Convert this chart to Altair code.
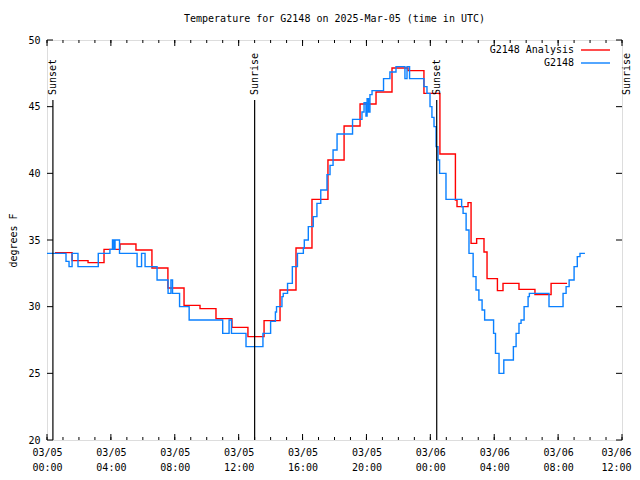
import altair as alt
import pandas as pd

MONO = "DejaVu Sans Mono"

# Hours since 03/05 00:00 UTC
analysis_hours = [0.5, 1.57, 2.57, 3.57, 4.57, 5.57, 6.57, 7.57, 8.58, 9.58, 10.58, 11.58,
                  12.58, 13.59, 14.59, 15.59, 16.59, 17.59, 18.6, 19.6, 20.6, 21.6, 22.6,
                  23.6, 24.6, 25.57, 25.67, 26.36, 26.55, 26.9, 27.36, 27.55, 28.2, 28.55,
                  29.55, 30.55, 31.56, 32.56]
analysis_temp = [34.05, 33.45, 33.3, 34.3, 34.7, 34.25, 32.9, 31.4, 30.1, 29.85, 29.1, 28.45,
                 27.75, 28.95, 31.25, 34.4, 38.05, 41.0, 43.55, 45.2, 46.1, 47.9, 47.7,
                 46.0, 41.45, 38.0, 37.5, 37.8, 34.75, 35.1, 34.1, 32.1, 31.2, 31.75,
                 31.3, 30.9, 31.75, 31.75]

obs_hours = [0.0, 1.19, 1.38, 1.57, 1.94, 3.21, 3.94, 4.1, 4.19, 4.26, 4.54, 5.64, 5.92,
             6.14, 6.89, 7.58, 7.76, 7.86, 8.3, 8.9, 11.0, 11.4, 11.55, 12.46, 13.52,
             14.0, 14.3, 14.37, 14.71, 14.79, 15.06, 15.36, 15.68, 16.05, 16.11, 16.36,
             16.67, 16.9, 17.14, 17.53, 17.72, 17.91, 18.16, 19.13, 19.72, 19.85, 19.97,
             20.04, 20.13, 20.22, 20.35, 21.07, 21.47, 21.85, 22.41, 22.54, 22.7, 23.6,
             23.79, 23.98, 24.1, 24.23, 24.36, 24.48, 24.58, 24.98, 25.96, 26.05, 26.24,
             26.42, 26.68, 26.86, 27.04, 27.24, 27.4, 27.96, 28.08, 28.3, 28.6, 29.2,
             29.37, 29.55, 29.68, 29.87, 30.12, 30.2, 31.43, 32.31, 32.5, 32.69, 33.0,
             33.2, 33.37, 33.68]
obs_temp = [34.0, 33.4, 33.0, 34.0, 33.0, 34.0, 34.3, 35.0, 34.3, 35.0, 34.0, 33.0, 34.0,
            33.0, 32.0, 31.0, 32.0, 31.0, 30.0, 29.0, 28.0, 29.0, 28.0, 27.0, 28.0,
            28.9, 29.6, 30.0, 30.75, 31.0, 31.75, 33.0, 34.0, 34.4, 35.0, 36.0,
            36.75, 37.75, 38.75, 39.9, 40.6, 41.75, 42.95, 44.05, 44.6, 45.3, 44.3,
            45.6, 44.6, 45.9, 46.2, 47.1, 47.6, 48.0, 47.1, 48.0, 47.1, 46.5,
            46.0, 45.0, 44.2, 43.5, 42.0, 41.0, 40.0, 38.05, 37.5, 37.0, 35.75,
            34.0, 32.25, 31.25, 30.5, 29.75, 29.0, 28.0, 26.5, 25.0, 26.0, 27.0,
            28.0, 28.75, 29.0, 30.0, 30.75, 31.0, 30.0, 31.0, 31.5, 32.0, 33.0,
            33.75, 34.0, 34.0]

sun_hours = [0.37, 13.0, 24.4, 36.9]
sun_labels = ["Sunset", "Sunrise", "Sunset", "Sunrise"]

y_tick_values = [20, 25, 30, 35, 40, 45, 50]
x_label_hours = [0, 4, 8, 12, 16, 20, 24, 28, 32, 36]
x_minor_hours = list(range(0, 37))

series_names = ["G2148 Analysis", "G2148"]
series_colors = ["#ff0000", "#0a80ff"]

lines_df = pd.concat([
    pd.DataFrame({"hours": analysis_hours, "temp": analysis_temp, "series": series_names[0]}),
    pd.DataFrame({"hours": obs_hours, "temp": obs_temp, "series": series_names[1]}),
])
sun_df = pd.DataFrame({"hours": sun_hours, "label": sun_labels})

W, H = 575, 400
x_scale = alt.Scale(domain=[0, 36], nice=False, zero=False)
y_scale = alt.Scale(domain=[20, 50], nice=False, zero=False)

label_expr = ("[datum.value < 24 ? '03/05' : '03/06', "
              "(datum.value % 24 < 10 ? '0' : '') + (datum.value % 24) + ':00']")

x_axis = alt.Axis(values=x_label_hours, labelExpr=label_expr, ticks=False, domain=False,
                  grid=False, labelFont=MONO, labelFontSize=10, labelPadding=7,
                  labelLineHeight=15, labelBaseline="top", labelAngle=0,
                  labelOffset={"condition": {"test": "datum.value >= 36", "value": -6}, "value": 0},
                  labelOverlap=False, labelFlush=False, labelColor="black", title=None)
y_axis = alt.Axis(values=y_tick_values, ticks=False, domain=False, grid=False,
                  labelFont=MONO, labelFontSize=10, labelPadding=7, labelColor="black",
                  labelFlush=False, labelOverlap=False,
                  title="degrees F", titleFont=MONO, titleFontSize=10,
                  titleFontWeight="normal", titleColor="black", titlePadding=9)


def xq(field="hours"):
    return alt.X(f"{field}:Q", scale=x_scale, axis=x_axis)


def yq():
    return alt.Y("temp:Q", scale=y_scale, axis=y_axis)


lines = alt.Chart(lines_df).mark_line(interpolate="step-after", strokeWidth=1.4).encode(
    x=xq(), y=yq(),
    color=alt.Color("series:N", scale=alt.Scale(domain=series_names, range=series_colors),
                    legend=None),
)

minor_df = pd.DataFrame({"hours": x_minor_hours})
major_df = pd.DataFrame({"hours": x_label_hours})
ytick_df = pd.DataFrame({"temp": y_tick_values})

tick_layers = [
    alt.Chart(minor_df).mark_rule(color="black").encode(x=xq(), y=alt.value(H - 3), y2=alt.value(H)),
    alt.Chart(minor_df).mark_rule(color="black").encode(x=xq(), y=alt.value(0), y2=alt.value(3)),
    alt.Chart(major_df).mark_rule(color="black").encode(x=xq(), y=alt.value(H - 6), y2=alt.value(H)),
    alt.Chart(major_df).mark_rule(color="black").encode(x=xq(), y=alt.value(0), y2=alt.value(6)),
    alt.Chart(ytick_df).mark_rule(color="black").encode(y=yq(), x=alt.value(0), x2=alt.value(6)),
    alt.Chart(ytick_df).mark_rule(color="black").encode(y=yq(), x=alt.value(W - 6), x2=alt.value(W)),
]

sun_rules = alt.Chart(sun_df).mark_rule(color="black", strokeWidth=1.2).encode(
    x=xq(), y=alt.datum(45.5, scale=y_scale, axis=y_axis), y2=alt.datum(20))
# the last label lies past the page edge; keep it just inside the drawing so it stays readable
sun_text = alt.Chart(sun_df).transform_calculate(
    label_x="min(datum.hours, 36.3)"
).mark_text(angle=270, align="left", baseline="middle", font=MONO,
            fontSize=10, color="black", dx=1).encode(
    x=xq("label_x"), y=alt.datum(45.8, scale=y_scale, axis=y_axis), text="label:N")

legend_layers = []
for i, (name, col) in enumerate(zip(series_names, series_colors)):
    ld = pd.DataFrame({"series": [name]})
    yy = 10 + 13 * i
    legend_layers.append(
        alt.Chart(ld).mark_text(align="right", baseline="middle", font=MONO, fontSize=10,
                                color="black").encode(text="series:N", x=alt.value(527), y=alt.value(yy)))
    legend_layers.append(
        alt.Chart(ld).mark_rule(color=col, strokeWidth=1.4).encode(
            x=alt.value(534), x2=alt.value(563), y=alt.value(yy)))

chart = alt.layer(lines, *tick_layers, sun_rules, sun_text, *legend_layers).properties(
    width=W, height=H,
    title=alt.TitleParams("Temperature for G2148 on 2025-Mar-05 (time in UTC)", font=MONO,
                          fontSize=10, fontWeight="normal", anchor="middle", offset=11,
                          color="black"),
    autosize=alt.AutoSizeParams(type="none"),
    padding={"left": 39, "top": 32, "right": 10, "bottom": 32},
).configure_view(stroke="black", strokeWidth=1).configure(background="white")

chart.save("out.html", embed_options={"renderer": "svg", "actions": False})
